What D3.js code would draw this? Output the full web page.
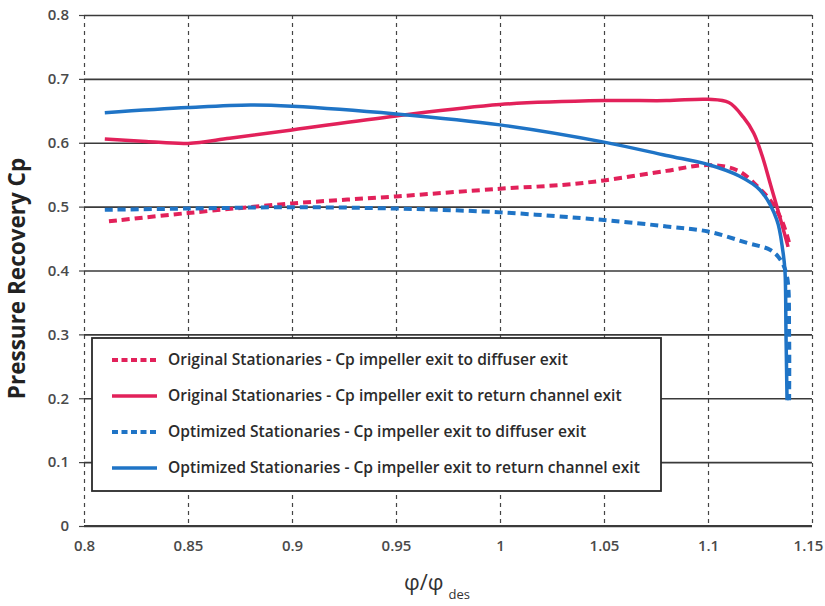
<!DOCTYPE html>
<html>
<head>
<meta charset="utf-8">
<script src="https://cdn.jsdelivr.net/npm/d3@7"></script>
<style>
  body { margin: 0; background: #fff; }
  svg { display: block; }
</style>
</head>
<body>
<svg id="chart"></svg>
<script>
// flow coefficient ratio vs pressure recovery
const origDiffuser = [
    [0.812, 0.477], [0.85, 0.490], [0.9, 0.505], [0.95, 0.516], [1.0, 0.528],
    [1.03, 0.534], [1.05, 0.541], [1.08, 0.556], [1.1, 0.565], [1.114, 0.557],
    [1.124, 0.531], [1.131, 0.505], [1.136, 0.474], [1.139, 0.443]
];
const origReturn = [
    [0.81, 0.606], [0.83, 0.602], [0.85, 0.599], [0.87, 0.607], [0.9, 0.620],
    [0.95, 0.642], [1.0, 0.660], [1.05, 0.666], [1.08, 0.666], [1.1, 0.668],
    [1.11, 0.663], [1.117, 0.640], [1.122, 0.615], [1.126, 0.580], [1.130, 0.535],
    [1.134, 0.490], [1.137, 0.455], [1.1385, 0.437]
];
const optDiffuser = [
    [0.81, 0.495], [0.85, 0.497], [0.9, 0.499], [0.95, 0.497], [1.0, 0.491],
    [1.05, 0.479], [1.08, 0.469], [1.1, 0.461], [1.119, 0.443], [1.13, 0.432],
    [1.135, 0.416], [1.138, 0.39], [1.139, 0.3], [1.139, 0.197]
];
const optReturn = [
    [0.81, 0.647], [0.85, 0.655], [0.88, 0.659], [0.9, 0.657], [0.95, 0.645],
    [1.0, 0.628], [1.05, 0.601], [1.08, 0.58], [1.1, 0.566], [1.115, 0.548],
    [1.125, 0.526], [1.133, 0.48], [1.136, 0.43], [1.137, 0.4], [1.1375, 0.3],
    [1.138, 0.197]
];
const seriesNames = [
    "Original Stationaries - Cp impeller exit to diffuser exit",
    "Original Stationaries - Cp impeller exit to return channel exit",
    "Optimized Stationaries - Cp impeller exit to diffuser exit",
    "Optimized Stationaries - Cp impeller exit to return channel exit"
];
const xTicks = [0.8, 0.85, 0.9, 0.95, 1, 1.05, 1.1, 1.15];
const yTicks = [0, 0.1, 0.2, 0.3, 0.4, 0.5, 0.6, 0.7, 0.8];

const red = "#e2215a", blue = "#1f74c6";
const series = [
    {name: seriesNames[0], data: origDiffuser, color: red, dashed: true},
    {name: seriesNames[1], data: origReturn, color: red, dashed: false},
    {name: seriesNames[2], data: optDiffuser, color: blue, dashed: true},
    {name: seriesNames[3], data: optReturn, color: blue, dashed: false}
];

const width = 825, height = 606;
const margin = ({top: 15, right: 13, bottom: 80, left: 84});
const font = "'Open Sans', 'DejaVu Sans', sans-serif";

const svg = d3.select("#chart")
    .attr("width", width)
    .attr("height", height)
    .attr("viewBox", [0, 0, width, height]);

const x = d3.scaleLinear()
    .domain([0.8, 1.15])
    .range([margin.left, width - margin.right]);

const y = d3.scaleLinear()
    .domain([0, 0.8])
    .range([height - margin.bottom, margin.top]);

// vertical dashed grid
svg.append("g")
    .attr("transform", `translate(0,${margin.top})`)
    .call(d3.axisBottom(x).tickValues(xTicks).tickSize(y(0) - margin.top).tickFormat(""))
    .call(g => g.select(".domain").remove())
    .call(g => g.selectAll("line")
        .attr("stroke", "#444")
        .attr("stroke-width", 1.2)
        .attr("stroke-dasharray", "4,4"));

// horizontal solid grid
svg.append("g")
    .attr("transform", `translate(${margin.left},0)`)
    .call(d3.axisRight(y).tickValues(yTicks).tickSize(x(1.15) - margin.left).tickFormat(""))
    .call(g => g.select(".domain").remove())
    .call(g => g.selectAll("line")
        .attr("stroke", "#3a3a3a")
        .attr("stroke-width", 1.6));

// y axis ticks + labels
svg.append("g")
    .attr("transform", `translate(${margin.left},0)`)
    .call(d3.axisLeft(y).tickValues(yTicks).tickSize(5).tickPadding(10).tickFormat(d3.format("")))
    .call(g => g.select(".domain").remove())
    .call(g => g.selectAll("line").attr("stroke", "#444").attr("stroke-width", 1.2))
    .call(g => g.selectAll("text")
        .attr("fill", "#4a4a4a")
        .style("font-family", font)
        .style("font-size", "15px")
        .style("font-weight", "600"));

// x axis labels
svg.append("g")
    .attr("transform", `translate(0,${y(0)})`)
    .call(d3.axisBottom(x).tickValues(xTicks).tickSize(0).tickPadding(14).tickFormat(d3.format("")))
    .call(g => g.select(".domain").remove())
    .call(g => g.selectAll("text")
        .attr("fill", "#4a4a4a")
        .style("font-family", font)
        .style("font-size", "15px")
        .style("font-weight", "600"))
    .call(g => g.selectAll(".tick:last-of-type text").attr("dx", -4));

// bottom axis line
svg.append("line")
    .attr("x1", x(0.8)).attr("x2", x(1.15))
    .attr("y1", y(0)).attr("y2", y(0))
    .attr("stroke", "#3a3a3a")
    .attr("stroke-width", 2);

const line = d3.line()
    .x(d => x(d[0]))
    .y(d => y(d[1]))
    .curve(d3.curveCatmullRom.alpha(0.5));

svg.append("g")
    .attr("fill", "none")
    .selectAll("path")
    .data(series)
    .join("path")
    .attr("stroke", d => d.color)
    .attr("stroke-width", d => d.dashed ? 4 : 3.5)
    .attr("stroke-dasharray", d => d.dashed ? "8,5" : null)
    .attr("d", d => line(d.data));

// legend
const legend = svg.append("g");
legend.append("rect")
    .attr("x", 92).attr("y", 338)
    .attr("width", 569).attr("height", 153)
    .attr("fill", "#fff")
    .attr("stroke", "#2a2a2a")
    .attr("stroke-width", 1.8);

const rows = legend.selectAll("g.row")
    .data(series)
    .join("g")
    .attr("class", "row")
    .attr("transform", (d, i) => `translate(0,${360 + i * 36})`);

rows.append("line")
    .attr("x1", 112).attr("x2", 157)
    .attr("stroke", d => d.color)
    .attr("stroke-width", d => d.dashed ? 4 : 3.5)
    .attr("stroke-dasharray", d => d.dashed ? "6,3.5" : null);

rows.append("text")
    .attr("x", 168)
    .attr("dy", "0.35em")
    .attr("fill", "#2b2b2b")
    .style("font-family", font)
    .style("font-size", "15.6px")
    .style("font-weight", "600")
    .text(d => d.name);

// axis titles
svg.append("text")
    .attr("transform", `translate(25,${(y(0.8) + y(0)) / 2 + 8}) rotate(-90)`)
    .attr("text-anchor", "middle")
    .attr("fill", "#222")
    .style("font-family", font)
    .style("font-size", "22.5px")
    .style("font-weight", "700")
    .text("Pressure Recovery Cp");

const xt = svg.append("text")
    .attr("x", 404)
    .attr("y", 590)
    .attr("fill", "#333")
    .style("font-family", font)
    .style("font-size", "22px");
xt.append("tspan").text("φ/φ");
xt.append("tspan")
    .attr("dx", 5)
    .attr("dy", 9)
    .style("font-size", "13px")
    .text("des");
</script>
</body>
</html>
